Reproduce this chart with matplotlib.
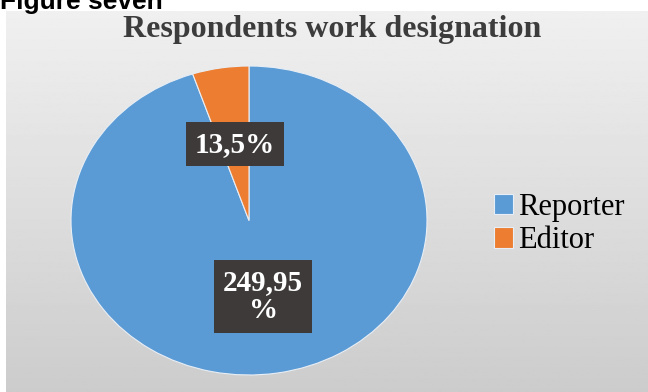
import numpy as np
import matplotlib.pyplot as plt

categories = ['Reporter', 'Editor']
values = [249.95, 13.5]
value_labels = ['249,95\n%', '13,5%']
colors = ['#5b9bd5', '#ed7d31']

W, H = 648, 392
fig = plt.figure(figsize=(W / 100, H / 100), dpi=100)
fig.patch.set_facecolor('white')

# grey gradient panel behind the chart
bg = fig.add_axes([6 / W, 0, 1 - 6 / W, 1 - 11 / H])
grad = np.linspace(0.94, 0.80, 256).reshape(-1, 1)
bg.imshow(grad, cmap='gray', vmin=0, vmax=1, aspect='auto', extent=[0, 1, 0, 1])
bg.axis('off')

fig.text(0, 1 - 9 / H, 'Figure seven', fontsize=19, fontweight='bold',
         family='Liberation Sans', va='baseline', ha='left')

fig.text(332 / W, 1 - 29 / H, 'Respondents work designation', fontsize=23,
         fontweight='bold', family='Liberation Serif', color='#3c3c3c',
         ha='center', va='center')

# pie axes (stretched into an ellipse like the original)
ax = fig.add_axes([71 / W, 17 / H, 356 / W, 309 / H])
wedges, _ = ax.pie(values, colors=colors, startangle=90, counterclock=False,
                   wedgeprops=dict(edgecolor='#e8eef5', linewidth=0.8))
ax.set_aspect('auto')
ax.set_xlim(-1, 1)
ax.set_ylim(-1, 1)

for w, lab in zip(wedges, value_labels):
    ang = np.deg2rad((w.theta1 + w.theta2) / 2)
    ax.text(0.5 * np.cos(ang), 0.5 * np.sin(ang), lab, ha='center', va='center',
            fontsize=21, fontweight='bold', family='Liberation Serif',
            color='white', linespacing=1.05,
            bbox=dict(boxstyle='square,pad=0.3', facecolor='#3d3a39',
                      edgecolor='none'))

leg = fig.legend(wedges, categories, loc='center left',
                 bbox_to_anchor=(466 / W, 1 - 224 / H), frameon=False,
                 prop=dict(family='Liberation Serif', size=22),
                 handlelength=0.65, handleheight=0.65, handletextpad=0.15,
                 labelspacing=0.15)

fig.savefig('out.png', dpi=100)
